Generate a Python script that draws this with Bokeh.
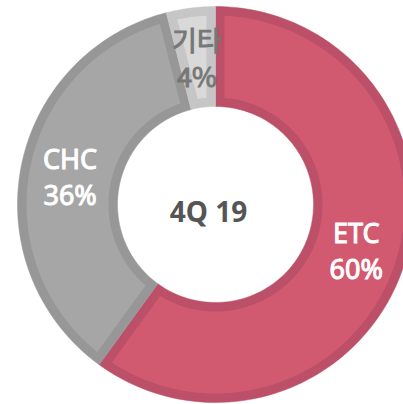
import numpy as np
from bokeh.plotting import figure
from bokeh.models import ColumnDataSource
from bokeh.core.properties import value
from bokeh.embed import file_html
from bokeh.resources import INLINE

# ---- data ----
categories = ["ETC", "CHC", "기타"]
shares = [60, 36, 4]
fill_colors = ["#d15a71", "#a6a6a6", "#d9d9d9"]
border_colors = ["#bc5068", "#979797", "#c6c6c6"]
label_colors = ["#ffffff", "#ffffff", "#777777"]
label_fonts = ["Noto Sans", "Noto Sans", "Noto Sans CJK KR"]
center_label = "4Q 19"

# ---- geometry (pixel-like data units, centre of donut at 0,0) ----
R_OUT, R_IN, BORDER = 198, 98, 9
LABEL_R = 148
LINE_GAP = 18

W, H = 403, 404
p = figure(width=W, height=H, x_range=(-215, 188), y_range=(-200, 204),
           output_backend="svg", toolbar_location=None, min_border=0)
p.axis.visible = False
p.grid.visible = False
p.outline_line_color = None
p.background_fill_color = "#ffffff"
p.border_fill_color = "#ffffff"


def sector(ts, te, r0, r1, inset, n=120):
    rho_o = r1 - inset
    rho_i = r0 + inset
    da_o = np.arcsin(inset / rho_o)
    da_i = np.arcsin(inset / rho_i)
    a_o = np.linspace(ts - da_o, te + da_o, n)
    a_i = np.linspace(te + da_i, ts - da_i, n)
    xs = np.concatenate([rho_o * np.cos(a_o), rho_i * np.cos(a_i)])
    ys = np.concatenate([rho_o * np.sin(a_o), rho_i * np.sin(a_i)])
    return list(xs), list(ys)


total = float(sum(shares))
start = np.pi / 2
outer_x, outer_y, inner_x, inner_y = [], [], [], []
lx, ly_name, ly_pct, names, pcts = [], [], [], [], []
for cat, s in zip(categories, shares):
    sweep = 2 * np.pi * s / total
    end = start - sweep  # clockwise
    xo, yo = sector(start, end, R_IN, R_OUT, 0.0)
    xi, yi = sector(start, end, R_IN, R_OUT, BORDER)
    outer_x.append(xo); outer_y.append(yo)
    inner_x.append(xi); inner_y.append(yi)
    mid = (start + end) / 2
    cx, cy = LABEL_R * np.cos(mid), LABEL_R * np.sin(mid)
    lx.append(cx)
    ly_name.append(cy + LINE_GAP)
    ly_pct.append(cy - LINE_GAP)
    names.append(cat)
    pcts.append(f"{s}%")
    start = end

p.patches(outer_x, outer_y, fill_color=border_colors, line_color=border_colors, line_width=0.5)
p.patches(inner_x, inner_y, fill_color=fill_colors, line_color=None)

src = ColumnDataSource(dict(x=lx, y1=ly_name, y2=ly_pct, name=names, pct=pcts,
                            color=label_colors, font=label_fonts))
for ycol, tcol in (("y1", "name"), ("y2", "pct")):
    p.text(x="x", y=ycol, text=tcol, source=src, text_color="color", text_font="font",
           text_font_size="27px", text_font_style="normal", text_align="center",
           text_baseline="middle", text_outline_color="color")

p.text(x=[-7], y=[-6], text=[center_label], text_color="#555555",
       text_font=value("Noto Sans"), text_font_size="28px", text_font_style="bold",
       text_align="center", text_baseline="middle")

open("out.html", "w").write(file_html(p, INLINE))
